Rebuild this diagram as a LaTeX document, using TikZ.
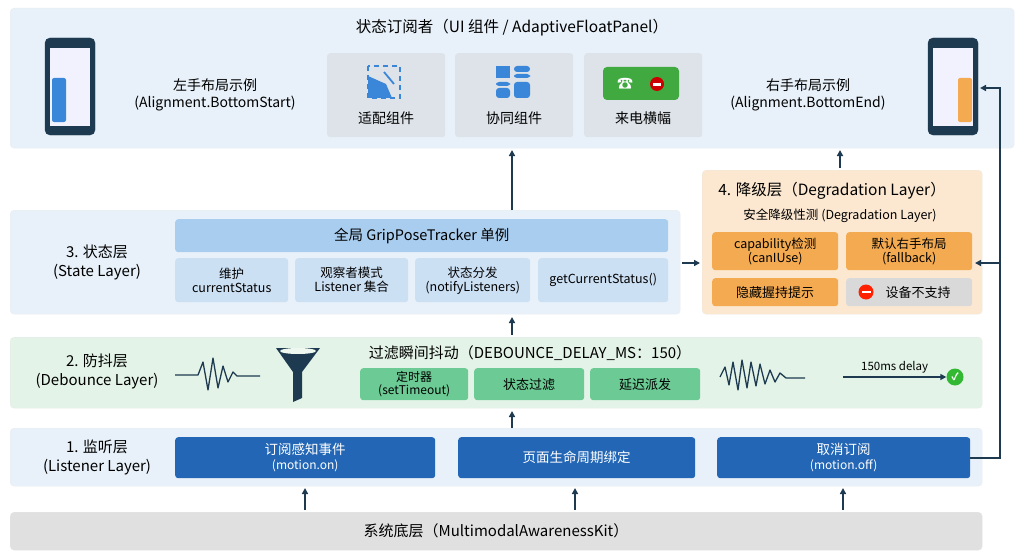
\documentclass[tikz,border=0pt]{standalone}
\usepackage{fontspec}
\setmainfont{Noto Sans CJK SC}
\usetikzlibrary{arrows.meta}
\definecolor{panelblue}{HTML}{E8F1F9}
\definecolor{navy}{HTML}{1E3A50}
\definecolor{card}{HTML}{DDE3E9}
\definecolor{barblue}{HTML}{A9CDEE}
\definecolor{subblue}{HTML}{CCE0F4}
\definecolor{degbg}{HTML}{FCE8D0}
\definecolor{orng}{HTML}{F4AA50}
\definecolor{gry}{HTML}{D9D9D9}
\definecolor{debbg}{HTML}{E3F3E7}
\definecolor{grn}{HTML}{6CCB94}
\definecolor{lisblue}{HTML}{2266B5}
\definecolor{basegray}{HTML}{E0E0E0}
\definecolor{iconblue}{HTML}{3A86D8}
\tikzset{
 panel/.style={draw=#1!70!gray!40, fill=#1, rounded corners=4pt, line width=0.4pt},
 box/.style={fill=#1, rounded corners=3pt, align=center, inner sep=0pt, font=\fontsize{12.5}{14}\selectfont},
 arr/.style={-{Triangle[length=6pt,width=6pt]}, line width=1.6pt, navy},
 lbl/.style={align=center, font=\fontsize{14}{17}\selectfont},
}
\begin{document}
\begin{tikzpicture}[x=1pt,y=-1pt]
\useasboundingbox (0,0) rectangle (1024,559);
\fill[white] (0,0) rectangle (1024,559);
% top panel
\node[panel=panelblue, minimum width=1004, minimum height=140, anchor=north west] (top) at (10,8) {};
\node[lbl, font=\fontsize{15.5}{17}\selectfont] (toptitle) at (512,28) {状态订阅者（UI 组件 / AdaptiveFloatPanel）};
% left phone
\draw[navy, fill=navy, rounded corners=5pt] (45,38) rectangle (95,135);
\fill[white!95!blue] (50,48) rectangle (90,126);
\fill[navy] (63,42) rectangle (77,44);
\fill[iconblue, rounded corners=2pt] (52,78) rectangle (66,122);
\node[lbl] (ltext) at (215,95) {左手布局示例\\(Alignment.BottomStart)};
% cards
\node[box=card, minimum width=118, minimum height=84, anchor=north west] (c1) at (327,53) {};
\node[box=card, minimum width=118, minimum height=84, anchor=north west] (c2) at (455,53) {};
\node[box=card, minimum width=118, minimum height=84, anchor=north west] (c3) at (584,53) {};
\node[lbl] (c1t) at (386,118) {适配组件};
\node[lbl] (c2t) at (514,118) {协同组件};
\node[lbl] (c3t) at (643,118) {来电横幅};
% icon 1
\draw[iconblue, line width=1.8pt, dash pattern=on 5pt off 4pt] (368,66) rectangle (400,98);
\fill[iconblue] (368,76) -- (386,84) -- (392,98) -- (368,98) -- cycle;
\draw[iconblue, line width=1.8pt] (384,72) -- (394,84);
% icon 2
\fill[iconblue] (496,66) rectangle (510,78);
\fill[iconblue, rounded corners=3pt] (514,66) rectangle (530,72);
\fill[iconblue, rounded corners=3pt] (514,74) rectangle (530,78);
\fill[iconblue, rounded corners=3pt] (496,82) rectangle (510,86);
\fill[iconblue, rounded corners=3pt] (496,88) rectangle (510,98);
\fill[iconblue, rounded corners=3pt] (514,82) rectangle (530,98);
% icon 3
\fill[green!55!black!75, rounded corners=4pt] (603,67) rectangle (679,100);
\node[text=white, font=\fontsize{16}{16}\selectfont] (ph) at (625,84) {\symbol{"260E}};
\fill[red!80!black] (657,84) circle (7);
\fill[white] (653,83) rectangle (661,86);
% right phone
\draw[navy, fill=navy, rounded corners=5pt] (928,38) rectangle (978,135);
\fill[white!95!blue] (933,48) rectangle (973,126);
\fill[navy] (946,42) rectangle (960,44);
\fill[orng, rounded corners=2pt] (958,78) rectangle (972,122);
\coordinate (rphone) at (980,88);
\node[lbl] (rtext) at (808,95) {右手布局示例\\(Alignment.BottomEnd)};

% state layer
\node[panel=panelblue, minimum width=670, minimum height=104, anchor=north west] (state) at (10,210) {};
\node[lbl, font=\fontsize{15}{19}\selectfont] (statel) at (97,262) {3. 状态层\\(State Layer)};
\node[box=barblue, minimum width=493, minimum height=33, anchor=north west, font=\fontsize{14.5}{16}\selectfont] (gbar) at (175,219) {全局 GripPoseTracker 单例};
\node[box=subblue, minimum width=113, minimum height=44, anchor=north west] (s1) at (175,258) {维护\\currentStatus};
\node[box=subblue, minimum width=113, minimum height=44, anchor=north west] (s2) at (295,258) {观察者模式\\Listener 集合};
\node[box=subblue, minimum width=115, minimum height=44, anchor=north west] (s3) at (415,258) {状态分发\\(notifyListeners)};
\node[box=subblue, minimum width=130, minimum height=44, anchor=north west] (s4) at (538,258) {getCurrentStatus()};

% degradation layer
\node[panel=degbg, minimum width=280, minimum height=144, anchor=north west] (deg) at (702,170) {};
\node[lbl, font=\fontsize{15.5}{17}\selectfont] (degt) at (832,191) {4. 降级层（Degradation Layer）};
\node[lbl, font=\fontsize{12.5}{14}\selectfont] (degs) at (840,216) {安全降级性测 (Degradation Layer)};
\node[box=orng, minimum width=126, minimum height=38, anchor=north west] (d1) at (712,232) {capability检测\\(canIUse)};
\node[box=orng, minimum width=126, minimum height=38, anchor=north west] (d2) at (846,232) {默认右手布局\\(fallback)};
\node[box=orng, minimum width=126, minimum height=28, anchor=north west, font=\fontsize{13}{14}\selectfont] (d3) at (712,278) {隐藏握持提示};
\node[box=gry, minimum width=126, minimum height=28, anchor=north west, font=\fontsize{13}{14}\selectfont] (d4) at (846,278) {\hspace{18pt}设备不支持};
\fill[red!75!orange] (866,292) circle (7.5);
\fill[white] (861.5,290.8) rectangle (870.5,293.2);

% debounce
\node[panel=debbg, minimum width=972, minimum height=71, anchor=north west] (deb) at (10,337) {};
\node[lbl, font=\fontsize{15}{19}\selectfont] (debl) at (97,371) {2. 防抖层\\(Debounce Layer)};
\draw[navy, line width=1.3pt, line join=round] (175,375) -- (198,375) -- (203,362) -- (208,390) -- (213,358) -- (218,388) -- (223,366) -- (228,382) -- (233,372) -- (237,376) -- (260,376);
\fill[navy] (276,348) -- (320,348) -- (302,372) -- (302,398) -- (293,402) -- (293,372) -- cycle;
\fill[debbg!60!white] (298,351) ellipse (18 and 3);
\node[lbl, font=\fontsize{15}{17}\selectfont] (debt) at (530,353) {过滤瞬间抖动（DEBOUNCE\_DELAY\_MS：150）};
\node[box=grn, minimum width=108, minimum height=32, anchor=north west, font=\fontsize{12}{13}\selectfont] (b1) at (360,368) {定时器\\(setTimeout)};
\node[box=grn, minimum width=110, minimum height=32, anchor=north west, font=\fontsize{13}{14}\selectfont] (b2) at (474,368) {状态过滤};
\node[box=grn, minimum width=110, minimum height=32, anchor=north west, font=\fontsize{13}{14}\selectfont] (b3) at (590,368) {延迟派发};
\draw[navy, line width=1.3pt, line join=round] (720,377) -- (725,367) -- (729,385) -- (733,362) -- (738,390) -- (742,360) -- (747,388) -- (751,362) -- (756,386) -- (760,364) -- (765,384) -- (770,370) -- (775,382) -- (780,373) -- (786,378) -- (805,378);
\coordinate (dstart) at (843,377);
\node[circle, fill=green!65!black!80, minimum size=17pt, inner sep=0pt, text=white, font=\fontsize{10}{10}\selectfont\bfseries] (chk) at (955,377) {\symbol{"2713}};
\draw[arr, line width=1.5pt] (dstart) -- (chk.west) node[midway, above, black, font=\fontsize{11.5}{12}\selectfont] {150ms delay};

% listener
\node[panel=panelblue, minimum width=972, minimum height=58, anchor=north west] (lis) at (10,428) {};
\node[lbl, font=\fontsize{15}{19}\selectfont] (lisl) at (97,457) {1. 监听层\\(Listener Layer)};
\node[box=lisblue, text=white, minimum width=260, minimum height=41, anchor=north west, font=\fontsize{13.5}{15}\selectfont] (l1) at (175,437) {订阅感知事件\\{\fontsize{12}{14}\selectfont (motion.on)}};
\node[box=lisblue, text=white, minimum width=237, minimum height=41, anchor=north west, font=\fontsize{13.5}{15}\selectfont] (l2) at (458,437) {页面生命周期绑定};
\node[box=lisblue, text=white, minimum width=253, minimum height=41, anchor=north west, font=\fontsize{13.5}{15}\selectfont] (l3) at (717,437) {取消订阅\\{\fontsize{12}{14}\selectfont (motion.off)}};

% base
\node[panel=basegray, minimum width=972, minimum height=38, anchor=north west] (base) at (10,512) {};
\node[lbl, font=\fontsize{15}{17}\selectfont] (baset) at (496,531) {系统底层（MultimodalAwarenessKit）};

% arrows
\draw[arr] (305,510) -- (305,488);
\draw[arr] (575,510) -- (575,488);
\draw[arr] (843,510) -- (843,488);
\draw[arr] (512,428) -- (512,411);
\draw[arr] (512,335) -- (512,317);
\draw[arr] (512,210) -- (512,150);
\draw[arr] (840,168) -- (840,150);
\draw[arr] (682,263) -- (700,263);
\coordinate (jr) at (1000,263);
\draw[navy, line width=1.6pt] (l3.east |- 458,458) -- (1000,458) -- (jr);
\draw[arr] (1000,458) -- (1000,88) -- (rphone);
\draw[arr] (jr) -- (975,263);
\end{tikzpicture}
\end{document}
